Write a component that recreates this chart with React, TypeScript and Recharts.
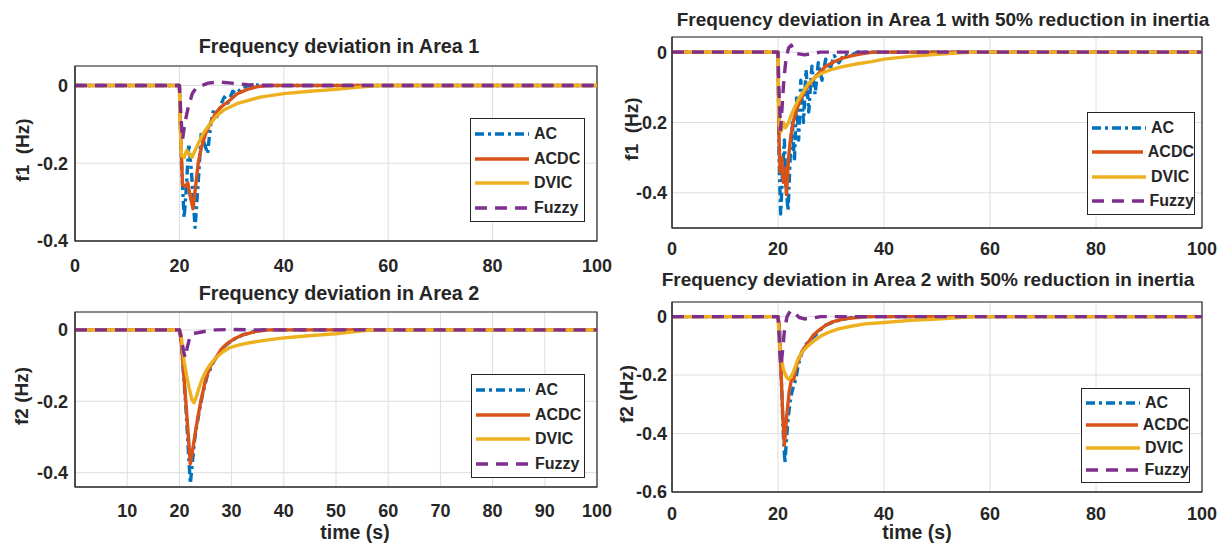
import React from 'react';
import { LineChart, Line, XAxis, YAxis, CartesianGrid, ReferenceArea, Legend } from 'recharts';

type Pt = [number, number];

// axis ticks
const timeTicks = [0, 20, 40, 60, 80, 100];
const timeTicksArea2 = [10, 20, 30, 40, 50, 60, 70, 80, 90, 100];
const devTicks = [-0.4, -0.2, 0];
const devTicksArea2Inertia = [-0.6, -0.4, -0.2, 0];

const seriesNames = ['AC', 'ACDC', 'DVIC', 'Fuzzy'];

// Area 1 — [time (s), deviation (Hz)]
const area1AC: Pt[] = [
  [0, 0], [20, 0], [20.4, -0.2], [20.9, -0.34], [21.3, -0.27], [21.8, -0.15], [22.3, -0.22],
  [23.0, -0.365], [23.6, -0.25], [24.2, -0.12], [24.8, -0.15], [25.4, -0.175], [26.0, -0.1],
  [26.6, -0.06], [27.2, -0.08], [27.9, -0.05], [28.6, -0.03], [29.3, -0.045], [30.2, -0.015],
  [31, -0.02], [32, -0.005], [34, 0.002], [36, 0], [100, 0],
];
const area1ACDC: Pt[] = [
  [0, 0], [20, 0], [20.3, -0.15], [20.6, -0.255], [21.2, -0.26], [21.6, -0.25], [22.0, -0.28],
  [22.6, -0.317], [23.1, -0.26], [23.6, -0.2], [24.2, -0.16], [25, -0.125], [26, -0.095],
  [27, -0.07], [28, -0.055], [29.5, -0.04], [31, -0.022], [33, -0.01], [35, -0.003], [37, 0], [100, 0],
];
const area1DVIC: Pt[] = [
  [0, 0], [20, 0], [20.15, -0.1], [20.4, -0.18], [20.9, -0.185], [21.4, -0.167], [22.4, -0.185],
  [23.3, -0.158], [24.5, -0.125], [25.9, -0.098], [27, -0.08], [28.4, -0.064], [31, -0.047],
  [35.5, -0.03], [40, -0.021], [45, -0.015], [50, -0.01], [54, -0.005], [58, 0], [100, 0],
];
const area1Fuzzy: Pt[] = [
  [0, 0], [20, 0], [20.3, -0.08], [20.6, -0.14], [21.0, -0.1], [21.7, -0.055], [22.5, -0.02],
  [23.3, -0.005], [24, -0.002], [25.5, 0.006], [27.5, 0.009], [30, 0.006], [33, 0.002], [37, 0], [100, 0],
];

// Area 1, 50% inertia
const area1LowAC: Pt[] = [
  [0, 0], [20, 0], [20.2, -0.3], [20.5, -0.46], [20.9, -0.33], [21.2, -0.25], [21.5, -0.38],
  [21.9, -0.45], [22.3, -0.3], [22.7, -0.2], [23.1, -0.31], [23.5, -0.13], [23.9, -0.25],
  [24.3, -0.08], [24.8, -0.2], [25.3, -0.05], [25.8, -0.17], [26.4, -0.04], [27, -0.12],
  [27.6, -0.03], [28.3, -0.08], [29, -0.02], [29.8, -0.05], [30.6, -0.01], [31.5, -0.03],
  [32.5, -0.005], [33.5, -0.012], [35, 0], [100, 0],
];
const area1LowACDC: Pt[] = [
  [0, 0], [20, 0], [20.2, -0.25], [20.4, -0.34], [20.7, -0.3], [21.0, -0.37], [21.3, -0.33],
  [21.6, -0.405], [22.0, -0.3], [22.4, -0.24], [23, -0.19], [23.6, -0.16], [24.5, -0.126],
  [25.5, -0.1], [26.5, -0.08], [27.7, -0.06], [29, -0.04], [30.5, -0.028], [32, -0.018],
  [34, -0.01], [36, -0.004], [38, 0], [100, 0],
];
const area1LowDVIC: Pt[] = [
  [0, 0], [20, 0], [20.1, -0.15], [20.3, -0.21], [20.6, -0.225], [21, -0.2], [21.4, -0.215],
  [22, -0.2], [22.6, -0.175], [23.8, -0.136], [25, -0.107], [25.7, -0.09], [27, -0.072],
  [28.2, -0.06], [30, -0.05], [32, -0.042], [35, -0.033], [37.7, -0.027], [40, -0.02],
  [45, -0.012], [50, -0.006], [55, -0.001], [57, 0], [100, 0],
];
const area1LowFuzzy: Pt[] = [
  [0, 0], [20, 0], [20.2, -0.12], [20.5, -0.22], [20.8, -0.15], [21.1, -0.08], [21.5, -0.02],
  [22, 0.012], [22.5, 0.02], [23, 0.005], [23.6, -0.004], [25, -0.008], [26.5, -0.004], [28, 0], [100, 0],
];

// Area 2
const area2AC: Pt[] = [
  [0, 0], [20, 0], [20.4, -0.04], [21.3, -0.23], [21.8, -0.36], [22.1, -0.43], [22.5, -0.37],
  [22.9, -0.31], [23.3, -0.27], [23.8, -0.23], [24.3, -0.19], [24.8, -0.16], [25.3, -0.13],
  [25.8, -0.115], [26.5, -0.09], [27.5, -0.068], [28.5, -0.048], [30, -0.03], [32, -0.015],
  [34, -0.006], [36, 0], [100, 0],
];
const area2ACDC: Pt[] = [
  [0, 0], [20, 0], [20.4, -0.04], [21.3, -0.215], [22.1, -0.375], [22.5, -0.34], [23.1, -0.283],
  [23.6, -0.24], [24.1, -0.2], [25.1, -0.134], [26, -0.1], [27, -0.078], [28, -0.055],
  [29, -0.04], [30.5, -0.025], [32, -0.015], [34.5, -0.005], [37, 0], [100, 0],
];
const area2DVIC: Pt[] = [
  [0, 0], [20, 0], [20.3, -0.012], [20.9, -0.087], [21.4, -0.13], [21.9, -0.165], [22.4, -0.195],
  [22.8, -0.204], [23.3, -0.185], [23.8, -0.16], [24.4, -0.137], [25.1, -0.115], [26, -0.095],
  [27, -0.078], [28.3, -0.062], [29.6, -0.05], [31.5, -0.042], [33.4, -0.036], [36, -0.03],
  [39.2, -0.024], [42, -0.02], [46, -0.015], [50, -0.011], [55, -0.003], [57, 0], [100, 0],
];
const area2Fuzzy: Pt[] = [
  [0, 0], [20, 0], [20.4, -0.025], [20.8, -0.06], [21.1, -0.078], [21.5, -0.05], [22, -0.02],
  [22.5, -0.01], [23.5, -0.008], [25, -0.004], [27, 0], [30, 0.001], [33, 0], [100, 0],
];

// Area 2, 50% inertia
const area2LowAC: Pt[] = [
  [0, 0], [20, 0], [20.3, -0.05], [20.7, -0.25], [21.0, -0.4], [21.3, -0.5], [21.6, -0.42],
  [21.95, -0.34], [22.3, -0.29], [22.6, -0.26], [22.9, -0.24], [23.2, -0.224], [23.5, -0.2],
  [23.8, -0.167], [24.4, -0.13], [25.1, -0.099], [26, -0.08], [27, -0.065], [28, -0.045],
  [28.9, -0.03], [30.5, -0.018], [32, -0.01], [34, -0.003], [36, 0], [100, 0],
];
const area2LowACDC: Pt[] = [
  [0, 0], [20, 0], [20.2, -0.02], [20.6, -0.2], [20.9, -0.34], [21.2, -0.44], [21.6, -0.35],
  [22.1, -0.258], [22.5, -0.218], [23, -0.215], [23.5, -0.167], [24.5, -0.12], [25.7, -0.088],
  [26.6, -0.065], [27.6, -0.048], [29, -0.03], [30.1, -0.019], [31.7, -0.011], [33.3, -0.006],
  [35.5, -0.002], [37, 0], [100, 0],
];
const area2LowDVIC: Pt[] = [
  [0, 0], [20, 0], [20.1, -0.03], [20.4, -0.11], [21, -0.18], [21.6, -0.207], [22, -0.215],
  [22.5, -0.205], [22.9, -0.19], [23.8, -0.144], [24.7, -0.118], [25.7, -0.099], [27, -0.08],
  [28.2, -0.065], [29.8, -0.052], [31.4, -0.042], [33.8, -0.033], [36.4, -0.025], [40, -0.02],
  [45, -0.013], [50, -0.008], [55, -0.002], [57, 0], [100, 0],
];
const area2LowFuzzy: Pt[] = [
  [0, 0], [20, 0], [20.2, -0.06], [20.5, -0.17], [20.8, -0.13], [21.2, -0.05], [21.7, 0],
  [22.3, 0.018], [22.8, 0.02], [23.4, 0.008], [24, -0.003], [25, -0.008], [26.5, -0.005], [28, 0], [100, 0],
];

const FONT = '"Liberation Sans", Arial, Helvetica, sans-serif';
const INK = '#262626';

const styles = [
  { color: '#0072BD', dash: '9 4 3 4' },
  { color: '#D95319', dash: undefined },
  { color: '#EDB120', dash: undefined },
  { color: '#7E2F8E', dash: '12 8' },
];

const toRows = (pts: Pt[]) => pts.map(([t, f]) => ({ t, f }));

interface Box { x: number; y: number; w: number; h: number }

interface PanelProps {
  box: Box;
  yDomain: [number, number];
  yTicks: number[];
  xTicks: number[];
  series: Pt[][];
  title: string;
  titlePos: [number, number];
  titleSize: number;
  yLabel: string;
  yLabelPos: [number, number];
  xLabelPos?: [number, number];
  legend: Box;
  xTickGap: number;
  yTickGap: number;
}

const PAD_L = 70;
const PAD_T = 10;
const PAD_R = 30;
const PAD_B = 40;

function LegendBox({ w, h }: { w: number; h: number }) {
  return (
    <div
      style={{
        width: w, height: h, boxSizing: 'border-box', border: `1px solid ${INK}`, background: '#fff',
        fontFamily: FONT, fontWeight: 700, fontSize: 16, color: INK, padding: '3px 0 0 4px',
      }}
    >
      {seriesNames.map((name, i) => (
        <div key={name} style={{ display: 'flex', alignItems: 'center', height: (h - 6) / 4 }}>
          <svg width={54} height={6} style={{ marginRight: 5 }}>
            <line x1={0} y1={3} x2={54} y2={3} stroke={styles[i].color} strokeWidth={3.5}
              strokeDasharray={styles[i].dash} />
          </svg>
          <span>{name}</span>
        </div>
      ))}
    </div>
  );
}

function Panel(p: PanelProps) {
  const left = p.box.x - PAD_L;
  const top = p.box.y - PAD_T;
  const tickStyle = { fill: INK, fontSize: 18, fontWeight: 700, fontFamily: FONT };
  const center: React.CSSProperties = {
    position: 'absolute', transform: 'translate(-50%, -50%)', whiteSpace: 'pre',
    fontFamily: FONT, fontWeight: 700, color: INK, lineHeight: 1,
  };
  return (
    <>
      <div style={{ ...center, left: p.titlePos[0], top: p.titlePos[1], fontSize: p.titleSize }}>{p.title}</div>
      <div style={{ ...center, left: p.yLabelPos[0], top: p.yLabelPos[1], fontSize: 19,
        transform: 'translate(-50%, -50%) rotate(-90deg)' }}>{p.yLabel}</div>
      {p.xLabelPos && (
        <div style={{ ...center, left: p.xLabelPos[0], top: p.xLabelPos[1], fontSize: 19.5 }}>time (s)</div>
      )}
      <div style={{ position: 'absolute', left, top }}>
        <LineChart
          width={p.box.w + PAD_L + PAD_R}
          height={p.box.h + PAD_T + PAD_B}
          margin={{ top: PAD_T, right: PAD_R, bottom: 0, left: 0 }}
        >
          <CartesianGrid stroke="#dedede" strokeWidth={1} />
          <XAxis type="number" dataKey="t" domain={[0, 100]} ticks={p.xTicks} height={PAD_B}
            allowDataOverflow tickSize={0} tickMargin={p.xTickGap} tick={tickStyle}
            axisLine={{ stroke: INK }} interval={0} />
          <YAxis type="number" dataKey="f" domain={p.yDomain} ticks={p.yTicks} width={PAD_L}
            allowDataOverflow tickSize={0} tickMargin={p.yTickGap} tick={tickStyle}
            axisLine={{ stroke: INK }} interval={0} tickFormatter={(v: number) => String(v)} />
          {p.series.map((s, i) => (
            <Line key={seriesNames[i]} name={seriesNames[i]} data={toRows(s)} dataKey="f" type="linear"
              stroke={styles[i].color} strokeWidth={3.4} strokeDasharray={styles[i].dash}
              strokeLinejoin="round" dot={false} activeDot={false} isAnimationActive={false} />
          ))}
          <ReferenceArea x1={0} x2={100} y1={p.yDomain[0]} y2={p.yDomain[1]} fill="none"
            stroke={INK} strokeWidth={1.2} ifOverflow="visible" />
          <Legend layout="vertical" align="center" verticalAlign="middle"
            wrapperStyle={{ left: p.legend.x - left, top: p.legend.y - top, width: p.legend.w, height: p.legend.h }}
            content={() => <LegendBox w={p.legend.w} h={p.legend.h} />} />
        </LineChart>
      </div>
    </>
  );
}

export default function App() {
  return (
    <div style={{ position: 'absolute', left: 0, top: 0, width: 1225, height: 543, background: '#fff', overflow: 'hidden' }}>
      <Panel
        box={{ x: 75, y: 66, w: 522, h: 175 }}
        yDomain={[-0.4, 0.05]} yTicks={devTicks} xTicks={timeTicks}
        series={[area1AC, area1ACDC, area1DVIC, area1Fuzzy]}
        title="Frequency deviation in Area 1" titlePos={[339, 47]} titleSize={19.8}
        yLabel="f1  (Hz)" yLabelPos={[22, 150]}
        legend={{ x: 470, y: 118, w: 115, h: 104 }}
        xTickGap={18} yTickGap={7}
      />
      <Panel
        box={{ x: 672, y: 37, w: 530, h: 191 }}
        yDomain={[-0.5, 0.043]} yTicks={devTicks} xTicks={timeTicks}
        series={[area1LowAC, area1LowACDC, area1LowDVIC, area1LowFuzzy]}
        title="Frequency deviation in Area 1 with 50% reduction in inertia" titlePos={[943, 19]} titleSize={19}
        yLabel="f1  (Hz)" yLabelPos={[631, 129]}
        legend={{ x: 1087, y: 112, w: 108, h: 103 }}
        xTickGap={14} yTickGap={5}
      />
      <Panel
        box={{ x: 75, y: 312, w: 522, h: 175 }}
        yDomain={[-0.44, 0.05]} yTicks={devTicks} xTicks={timeTicksArea2}
        series={[area2AC, area2ACDC, area2DVIC, area2Fuzzy]}
        title="Frequency deviation in Area 2" titlePos={[339, 294]} titleSize={19.8}
        yLabel="f2 (Hz)" yLabelPos={[21, 396]} xLabelPos={[355, 533]}
        legend={{ x: 471, y: 374, w: 114, h: 104 }}
        xTickGap={17} yTickGap={7}
      />
      <Panel
        box={{ x: 672, y: 302, w: 530, h: 190 }}
        yDomain={[-0.6, 0.05]} yTicks={devTicksArea2Inertia} xTicks={timeTicks}
        series={[area2LowAC, area2LowACDC, area2LowDVIC, area2LowFuzzy]}
        title="Frequency deviation in Area 2 with 50% reduction in inertia" titlePos={[928, 279]} titleSize={19}
        yLabel="f2 (Hz)" yLabelPos={[626, 394]} xLabelPos={[917, 533]}
        legend={{ x: 1081, y: 388, w: 109, h: 95 }}
        xTickGap={15} yTickGap={5}
      />
    </div>
  );
}
